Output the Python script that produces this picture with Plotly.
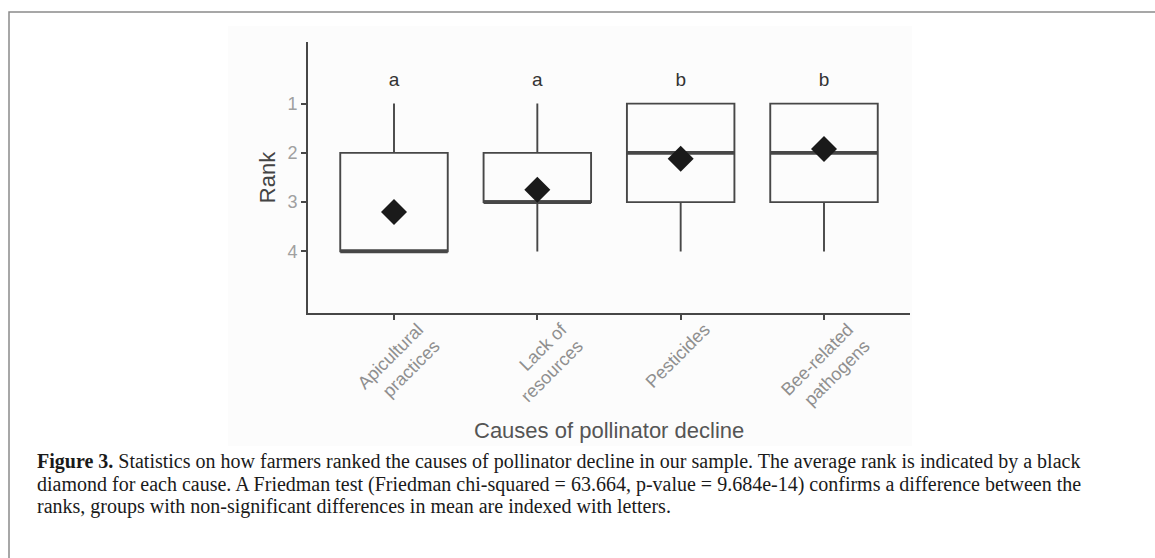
import plotly.graph_objects as go

# ---- data ----
categories = ["Apicultural<br>practices", "Lack of<br>resources", "Pesticides", "Bee-related<br>pathogens"]
lower_whisker = [1, 1, 1, 1]
q1 = [2, 2, 1, 1]
median = [4, 3, 2, 2]
q3 = [4, 3, 3, 3]
upper_whisker = [4, 4, 4, 4]
mean_rank = [3.2, 2.75, 2.12, 1.92]
letters = ["a", "a", "b", "b"]
letter_y = [0.55, 0.55, 0.55, 0.55]
y_ticks = [1, 2, 3, 4]

caption_lines = [
    "<b>Figure 3.</b> Statistics on how farmers ranked the causes of pollinator decline in our sample. The average rank is indicated by a black",
    "diamond for each cause. A Friedman test (Friedman chi-squared = 63.664, p-value = 9.684e-14) confirms a difference between the",
    "ranks, groups with non-significant differences in mean are indexed with letters.",
]

# ---- layout geometry (pixels) ----
W, H = 1155, 558
L, R, T, B = 308, 910, 42, 313
box_w = 0.75
line_col = "#474747"

def px_x(p):
    return (p - L) / (R - L)

def px_y(p):
    return (B - p) / (B - T)

xs = list(range(len(categories)))

fig = go.Figure()

fig.add_trace(go.Box(
    x=xs, q1=q1, median=median, q3=q3,
    lowerfence=lower_whisker, upperfence=upper_whisker,
    width=box_w, whiskerwidth=0,
    fillcolor="rgba(0,0,0,0)",
    line=dict(color=line_col, width=1.9),
    showlegend=False, hoverinfo="skip", boxpoints=False,
))

# thicker median lines (ggplot style)
mx, my = [], []
for xi, m in zip(xs, median):
    mx += [xi - box_w / 2, xi + box_w / 2, None]
    my += [m, m, None]
fig.add_trace(go.Scatter(x=mx, y=my, mode="lines",
                         line=dict(color=line_col, width=3.6),
                         showlegend=False, hoverinfo="skip"))

# mean diamonds
fig.add_trace(go.Scatter(x=xs, y=mean_rank, mode="markers",
                         marker=dict(symbol="diamond", size=20, color="#1a1a1a"),
                         showlegend=False, hoverinfo="skip"))

# group letters
fig.add_trace(go.Scatter(x=xs, y=letter_y, mode="text", text=letters,
                         textposition="middle center",
                         textfont=dict(family="Liberation Sans", size=19, color="#333333"),
                         showlegend=False, hoverinfo="skip"))

shapes = [
    # light background of the embedded chart image
    dict(type="rect", xref="paper", yref="paper",
         x0=px_x(228), x1=px_x(912), y0=px_y(446), y1=px_y(26),
         fillcolor="#fcfcfc", line=dict(width=0), layer="below"),
    # outer frame (left and top edges)
    dict(type="path", xref="paper", yref="paper",
         path=f"M {px_x(9)},{px_y(560)} L {px_x(9)},{px_y(12)} L {px_x(1160)},{px_y(12)}",
         line=dict(color="#8a8a8a", width=1.5)),
]

annotations = [
    dict(text="Causes of pollinator decline", xref="paper", yref="paper",
         x=px_x(609), y=px_y(430), xanchor="center", yanchor="middle",
         showarrow=False, font=dict(family="Liberation Sans", size=22, color="#555555")),
]
for i, line in enumerate(caption_lines):
    annotations.append(dict(text=line, xref="paper", yref="paper",
                            x=px_x(35), y=px_y(462 + 22 * i), xanchor="left", yanchor="middle",
                            showarrow=False, align="left",
                            font=dict(family="Liberation Serif", size=20, color="#1a1a1a")))

fig.update_layout(
    width=W, height=H,
    margin=dict(l=L, r=W - R, t=T, b=H - B),
    paper_bgcolor="white", plot_bgcolor="rgba(0,0,0,0)",
    shapes=shapes, annotations=annotations,
    xaxis=dict(range=[-0.6, 3.6], tickmode="array", tickvals=xs, ticktext=categories,
               tickangle=-45, ticklabelshift=24, ticklabelstandoff=-8,
               showline=True, linecolor=line_col, linewidth=1.9,
               ticks="outside", ticklen=5, tickwidth=1.6, tickcolor=line_col,
               showgrid=False, zeroline=False,
               tickfont=dict(family="Liberation Sans", size=18, color="#8f8f8f")),
    yaxis=dict(range=[5.25, -0.25], tickmode="array", tickvals=y_ticks,
               showline=True, linecolor=line_col, linewidth=1.9,
               ticks="outside", ticklen=5, tickwidth=1.6, tickcolor=line_col,
               showgrid=False, zeroline=False,
               tickfont=dict(family="Liberation Sans", size=18, color="#a0a0a0"),
               title=dict(text="Rank", standoff=6,
                          font=dict(family="Liberation Sans", size=22, color="#444444"))),
)

fig.write_html("out.html", config={"displayModeBar": False},
               post_script="document.body.style.margin='0px';")
